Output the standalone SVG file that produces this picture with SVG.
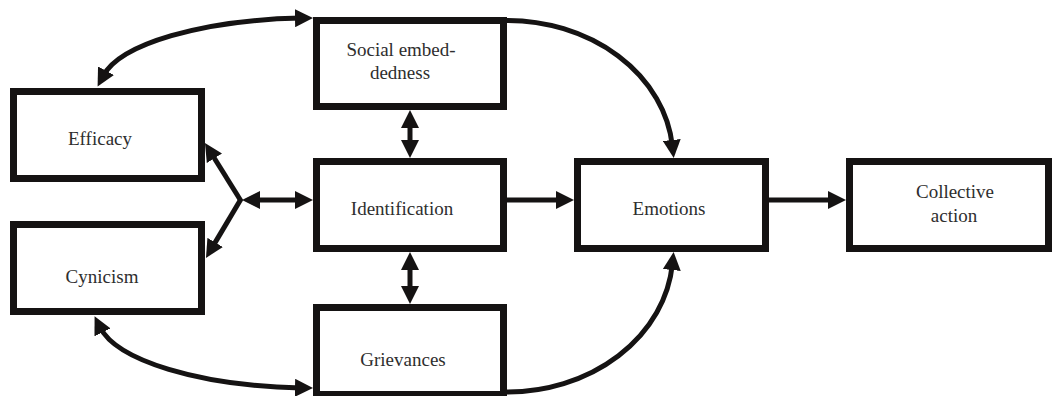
<svg xmlns="http://www.w3.org/2000/svg" width="1052" height="396" viewBox="0 0 1052 396">
<style>
.box{fill:#fff;stroke:#151313;stroke-width:7}
.lbl{font-family:"Liberation Serif","Times New Roman",serif;font-size:19px;fill:#2e2e2e;text-anchor:middle}
.con{fill:none;stroke:#151313;stroke-width:5}
.a2{marker-start:url(#ah);marker-end:url(#ah)}
.a1{marker-end:url(#ah)}
</style>
<defs>
<marker id="ah" viewBox="0 0 18 18" refX="6" refY="9" markerWidth="18" markerHeight="18" markerUnits="userSpaceOnUse" orient="auto-start-reverse">
<path d="M0,0 L18,9 L0,18 z" fill="#151313"/>
</marker>
</defs>
<rect width="1052" height="396" fill="#fff"/>
<g id="connectors">
<path class="con a2" d="M103.2,76 A213 70 0 0 1 301,18.1"/>
<path class="con a2" d="M99.9,327 A216 73 0 0 0 301,387.9"/>
<path class="con a1" d="M505,20.5 A166 138 0 0 1 672.4,146"/>
<path class="con a1" d="M505,392 A166 140 0 0 0 672.4,264"/>
<path class="con a1" d="M241,201 L211.3,153.2"/>
<path class="con a1" d="M241,199 L212.1,247.6"/>
<path class="con a2" d="M254,200 L301,200"/>
<path class="con a2" d="M410,122 L410,146"/>
<path class="con a2" d="M410,264 L410,292"/>
<path class="con a1" d="M507,200 L562,200"/>
<path class="con a1" d="M769,200 L834,200"/>
</g>
<g id="efficacy">
<rect class="box" x="13.5" y="91.5" width="188" height="87"/>
<text class="lbl" x="100" y="145">Efficacy</text>
</g>
<g id="cynicism">
<rect class="box" x="13.5" y="224.5" width="188" height="87"/>
<text class="lbl" x="102" y="283">Cynicism</text>
</g>
<g id="social">
<rect class="box" x="316.5" y="20.5" width="187" height="86"/>
<text class="lbl" x="401" y="56">Social embed-</text>
<text class="lbl" x="400" y="79">dedness</text>
</g>
<g id="identification">
<rect class="box" x="316.5" y="161.5" width="187" height="87"/>
<text class="lbl" x="402" y="215">Identification</text>
</g>
<g id="grievances">
<rect class="box" x="316.5" y="307.5" width="187" height="87"/>
<text class="lbl" x="403" y="366">Grievances</text>
</g>
<g id="emotions">
<rect class="box" x="577.5" y="161.5" width="188" height="87"/>
<text class="lbl" x="669" y="215">Emotions</text>
</g>
<g id="collective">
<rect class="box" x="849.5" y="161.5" width="199" height="87"/>
<text class="lbl" x="955" y="198">Collective</text>
<text class="lbl" x="954" y="222">action</text>
</g>
</svg>
